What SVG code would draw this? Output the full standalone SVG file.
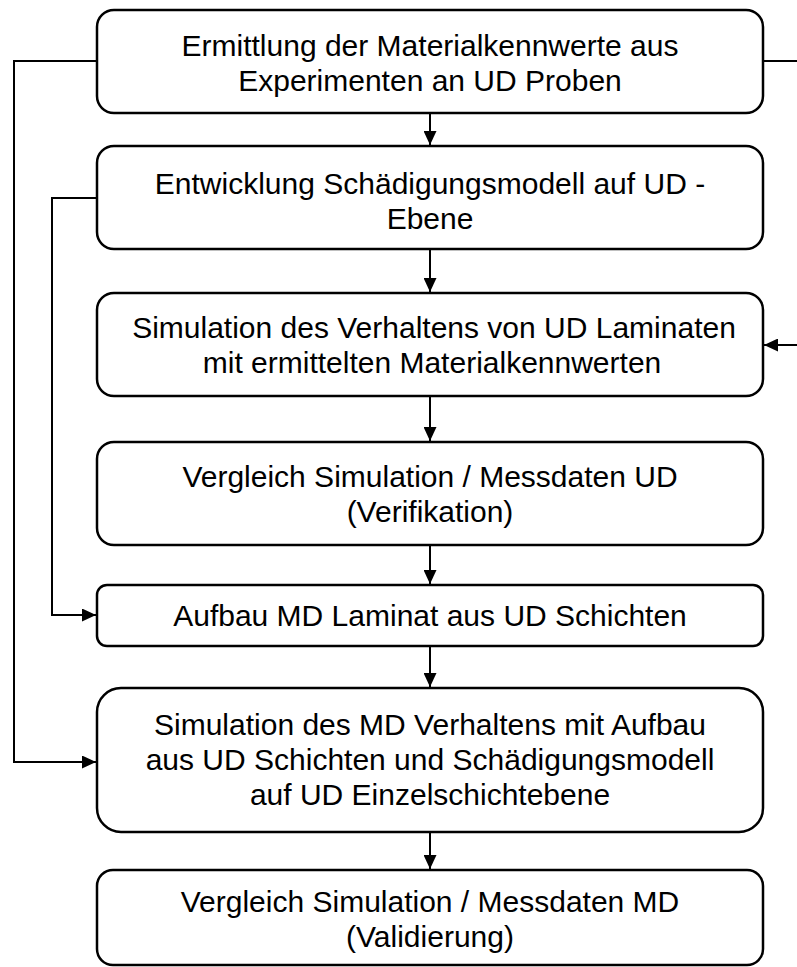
<svg xmlns="http://www.w3.org/2000/svg" width="797" height="967" viewBox="0 0 797 967">
<style>
.box{fill:#fff;stroke:#000;stroke-width:2.5}
.t{font-family:"Liberation Sans",Arial,sans-serif;font-size:30px;fill:#000;text-anchor:middle}
.c{fill:none;stroke:#000;stroke-width:2}
</style>
<defs>
<marker id="ah" viewBox="0 0 14 13" refX="14" refY="6.5" markerWidth="14" markerHeight="13" markerUnits="userSpaceOnUse" orient="auto">
<path d="M0,0 L14,6.5 L0,13 Z" fill="#000"/>
</marker>
</defs>
<g id="connectors">
<path class="c" d="M430,113 V145" marker-end="url(#ah)"/>
<path class="c" d="M430,249 V292" marker-end="url(#ah)"/>
<path class="c" d="M430,396 V441" marker-end="url(#ah)"/>
<path class="c" d="M430,545 V584" marker-end="url(#ah)"/>
<path class="c" d="M430,646 V687" marker-end="url(#ah)"/>
<path class="c" d="M430,832 V869" marker-end="url(#ah)"/>
<path class="c" d="M97,61 H14 V762 H96" marker-end="url(#ah)"/>
<path class="c" d="M97,198 H52 V615 H96" marker-end="url(#ah)"/>
<path class="c" d="M763,61 H812 V345 H764" marker-end="url(#ah)"/>
</g>
<g id="n1"><rect class="box" x="97" y="10" width="666" height="103" rx="17"/>
<text class="t" x="430" y="56">Ermittlung der Materialkennwerte aus</text>
<text class="t" x="430" y="91">Experimenten an UD Proben</text></g>
<g id="n2"><rect class="box" x="97" y="146" width="666" height="103" rx="17"/>
<text class="t" x="430" y="194">Entwicklung Schädigungsmodell auf UD -</text>
<text class="t" x="430" y="229">Ebene</text></g>
<g id="n3"><rect class="box" x="97" y="293" width="666" height="103" rx="17"/>
<text class="t" x="434" y="338">Simulation des Verhaltens von UD Laminaten</text>
<text class="t" x="432" y="373">mit ermittelten Materialkennwerten</text></g>
<g id="n4"><rect class="box" x="97" y="442" width="666" height="103" rx="17"/>
<text class="t" x="430" y="487">Vergleich Simulation / Messdaten UD</text>
<text class="t" x="430" y="522">(Verifikation)</text></g>
<g id="n5"><rect class="box" x="97" y="585" width="666" height="61" rx="10"/>
<text class="t" x="430" y="626">Aufbau MD Laminat aus UD Schichten</text></g>
<g id="n6"><rect class="box" x="97" y="688" width="666" height="144" rx="24"/>
<text class="t" x="430" y="735">Simulation des MD Verhaltens mit Aufbau</text>
<text class="t" x="430" y="770">aus UD Schichten und Schädigungsmodell</text>
<text class="t" x="430" y="805">auf UD Einzelschichtebene</text></g>
<g id="n7"><rect class="box" x="97" y="870" width="666" height="95" rx="16"/>
<text class="t" x="430" y="912">Vergleich Simulation / Messdaten MD</text>
<text class="t" x="430" y="947">(Validierung)</text></g>
</svg>
